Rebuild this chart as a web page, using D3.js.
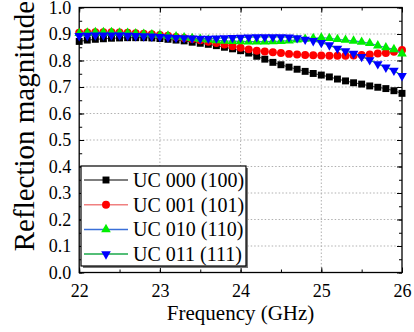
<!DOCTYPE html>
<html>
<head>
<meta charset="utf-8">
<script src="https://cdn.jsdelivr.net/npm/d3@7"></script>
<style>
  body { margin: 0; background: #fff; }
  svg { display: block; }
  text { font-family: "Liberation Serif", "Times New Roman", serif; fill: #000; }
</style>
</head>
<body>
<svg id="chart" width="414" height="332"></svg>
<script>
// data
var freq = [22.0,22.1,22.2,22.3,22.4,22.5,22.6,22.7,22.8,22.9,23.0,23.1,23.2,23.3,23.4,23.5,23.6,23.7,23.8,23.9,
            24.0,24.1,24.2,24.3,24.4,24.5,24.6,24.7,24.8,24.9,25.0,25.1,25.2,25.3,25.4,25.5,25.6,25.7,25.8,25.9,26.0];

var uc000 = [0.872,0.877,0.880,0.882,0.884,0.885,0.886,0.886,0.886,0.885,0.883,0.880,0.877,0.874,0.869,0.865,0.861,0.856,0.850,0.844,
             0.837,0.828,0.816,0.805,0.793,0.784,0.775,0.767,0.759,0.751,0.745,0.738,0.730,0.723,0.716,0.711,0.704,0.699,0.694,0.686,0.676];
var uc001 = [0.905,0.906,0.907,0.907,0.907,0.906,0.905,0.903,0.901,0.899,0.896,0.893,0.889,0.885,0.881,0.876,0.871,0.866,0.860,0.854,
             0.848,0.842,0.837,0.834,0.831,0.828,0.825,0.823,0.821,0.820,0.819,0.818,0.818,0.818,0.819,0.821,0.823,0.826,0.828,0.833,0.840];
var uc010 = [0.903,0.905,0.906,0.906,0.906,0.905,0.904,0.902,0.900,0.898,0.896,0.893,0.890,0.887,0.884,0.881,0.878,0.876,0.874,0.873,
             0.872,0.871,0.871,0.871,0.872,0.873,0.875,0.878,0.881,0.884,0.886,0.884,0.880,0.877,0.874,0.870,0.865,0.856,0.849,0.842,0.826];
var uc011 = [0.893,0.894,0.895,0.895,0.895,0.895,0.894,0.893,0.892,0.891,0.890,0.888,0.886,0.885,0.884,0.883,0.883,0.884,0.885,0.886,
             0.887,0.888,0.889,0.889,0.889,0.889,0.888,0.885,0.879,0.874,0.867,0.858,0.845,0.836,0.826,0.814,0.802,0.787,0.774,0.762,0.742];

var seriesNames = ["UC 000 (100)", "UC 001 (101)", "UC 010 (110)", "UC 011 (111)"];
var xTicks = [22, 23, 24, 25, 26];
var yTicks = [0.0, 0.1, 0.2, 0.3, 0.4, 0.5, 0.6, 0.7, 0.8, 0.9, 1.0];

var series = [
  { name: seriesNames[0], values: uc000, fill: "#000000", line: "#555555", symbol: d3.symbolSquare, size: 48, rot: 0 },
  { name: seriesNames[1], values: uc001, fill: "#ff0000", line: "#f08080", symbol: d3.symbolCircle, size: 50, rot: 0 },
  { name: seriesNames[2], values: uc010, fill: "#00ee00", line: "#3a6fd8", symbol: d3.symbolTriangle, size: 40, rot: 0 },
  { name: seriesNames[3], values: uc011, fill: "#0000ff", line: "#1aa84a", symbol: d3.symbolTriangle, size: 40, rot: 180 }
];

var svg = d3.select("#chart");
// plot box (note: "top" is taken by window, so use other names)
var pLeft = 79.2, pRight = 402, pTop = 7.5, pBottom = 272.5;

var x = d3.scaleLinear().domain([22, 26]).range([pLeft, pRight]);
var y = d3.scaleLinear().domain([0, 1]).range([pBottom, pTop]);

// dotted grid
var grid = svg.append("g");
grid.selectAll(".gx").data(xTicks.slice(1, -1)).enter().append("line")
    .attr("x1", function(d) { return x(d); }).attr("x2", function(d) { return x(d); })
    .attr("y1", pTop).attr("y2", pBottom)
    .attr("stroke", "#b0b0b0").attr("stroke-width", 1).attr("stroke-dasharray", "1.5,2");
grid.selectAll(".gy").data(yTicks.slice(1, -1)).enter().append("line")
    .attr("y1", function(d) { return y(d); }).attr("y2", function(d) { return y(d); })
    .attr("x1", pLeft).attr("x2", pRight)
    .attr("stroke", "#b0b0b0").attr("stroke-width", 1).attr("stroke-dasharray", "1.5,2");

// axes, ticks pointing in on all four sides
var xMinor = d3.range(22, 26.01, 0.5);
var yMinor = d3.range(0, 1.001, 0.05);

svg.append("g").attr("transform", "translate(0," + pBottom + ")")
    .call(d3.axisBottom(x).tickValues(xMinor).tickSize(-3).tickFormat(""));
svg.append("g").attr("transform", "translate(0," + pBottom + ")")
    .call(d3.axisBottom(x).tickValues(xTicks).tickSize(-5).tickPadding(12).tickFormat(d3.format("d")))
    .attr("class", "xaxis");
svg.append("g").attr("transform", "translate(0," + pTop + ")")
    .call(d3.axisTop(x).tickValues(xMinor).tickSize(-3).tickFormat(""));
svg.append("g").attr("transform", "translate(0," + pTop + ")")
    .call(d3.axisTop(x).tickValues(xTicks).tickSize(-5).tickFormat(""));

svg.append("g").attr("transform", "translate(" + pLeft + ",0)")
    .call(d3.axisLeft(y).tickValues(yMinor).tickSize(-3).tickFormat(""));
svg.append("g").attr("transform", "translate(" + pLeft + ",0)")
    .call(d3.axisLeft(y).tickValues(yTicks).tickSize(-5).tickPadding(8).tickFormat(d3.format(".1f")))
    .attr("class", "yaxis");
svg.append("g").attr("transform", "translate(" + pRight + ",0)")
    .call(d3.axisRight(y).tickValues(yMinor).tickSize(-3).tickFormat(""));
svg.append("g").attr("transform", "translate(" + pRight + ",0)")
    .call(d3.axisRight(y).tickValues(yTicks).tickSize(-5).tickFormat(""));

svg.selectAll(".domain").remove();
svg.selectAll(".tick line").attr("stroke", "#000").attr("stroke-width", 1);
svg.selectAll(".xaxis text, .yaxis text").style("font-size", "18px").attr("fill", "#000")
    .style("font-family", "'Liberation Serif', 'Times New Roman', serif");

// frame
svg.append("rect").attr("x", pLeft).attr("y", pTop)
    .attr("width", pRight - pLeft).attr("height", pBottom - pTop)
    .attr("fill", "none").attr("stroke", "#000").attr("stroke-width", 1.3);

// the series
var line = d3.line()
    .x(function(d, i) { return x(freq[i]); })
    .y(function(d) { return y(d); });

series.forEach(function(s) {
  var g = svg.append("g");
  g.append("path").datum(s.values)
      .attr("d", line)
      .attr("fill", "none").attr("stroke", s.line).attr("stroke-width", 1.2);
  g.selectAll("path.pt").data(s.values).enter().append("path")
      .attr("class", "pt")
      .attr("d", d3.symbol().type(s.symbol).size(s.size))
      .attr("fill", s.fill)
      .attr("transform", function(d, i) { return "translate(" + x(freq[i]) + "," + y(d) + ") rotate(" + s.rot + ")"; });
});

// legend
var lg = svg.append("g");
lg.append("rect").attr("x", 83).attr("y", 168).attr("width", 165).attr("height", 100)
    .attr("fill", "#777");
lg.append("rect").attr("x", 81).attr("y", 166).attr("width", 165).attr("height", 100)
    .attr("fill", "#fff").attr("stroke", "#000").attr("stroke-width", 1.2);

var item = lg.selectAll(".item").data(series).enter().append("g")
    .attr("transform", function(d, i) { return "translate(0," + (180 + i * 24.7) + ")"; });
item.append("line").attr("x1", 84).attr("x2", 128).attr("y1", 0).attr("y2", 0)
    .attr("stroke", function(d) { return d.line; }).attr("stroke-width", 1.5);
item.append("path")
    .attr("d", function(d) { return d3.symbol().type(d.symbol).size(d.size)(); })
    .attr("fill", function(d) { return d.fill; })
    .attr("transform", function(d) { return "translate(106,0) rotate(" + d.rot + ")"; });
item.append("text").attr("x", 133).attr("y", 7)
    .style("font-size", "20px")
    .text(function(d) { return d.name; });

// axis titles
svg.append("text")
    .attr("x", (pLeft + pRight) / 2).attr("y", 320)
    .attr("text-anchor", "middle")
    .style("font-size", "21px")
    .text("Frequency (GHz)");

svg.append("text")
    .attr("transform", "translate(34,126) rotate(-90)")
    .attr("text-anchor", "middle")
    .style("font-size", "29px")
    .text("Reflection magnitude");
</script>
</body>
</html>
